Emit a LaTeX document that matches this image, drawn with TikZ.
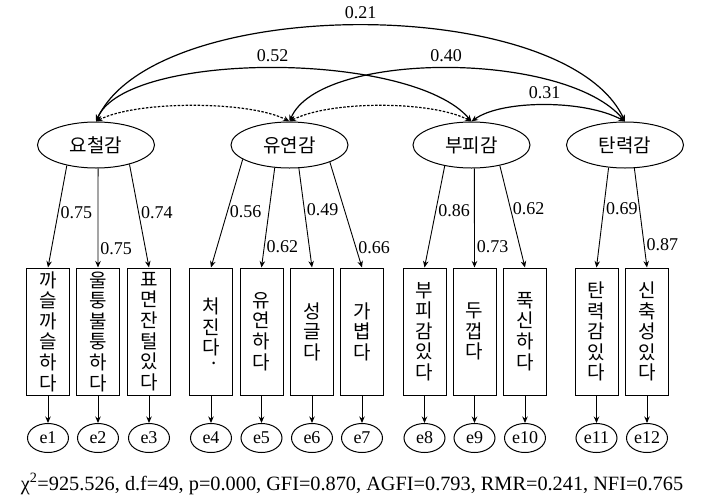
\documentclass[tikz,border=0pt]{standalone}
\usepackage{fontspec}
\setmainfont{Liberation Serif}
\newfontfamily\krfont{Noto Sans CJK KR}
\usetikzlibrary{arrows.meta,shapes.geometric}

\begin{document}
\begin{tikzpicture}[x=1pt,y=-1pt,
    >={Stealth[length=6.5pt,width=5.5pt]},
    latent/.style={draw,ellipse,line width=1pt,minimum width=117pt,minimum height=46pt,inner sep=0pt,font=\krfont\fontsize{19}{22}\selectfont},
    obs/.style={draw,line width=1pt,minimum width=43pt,minimum height=127pt,inner sep=0pt,align=center,font=\krfont\fontsize{19}{20.6}\selectfont},
    resid/.style={draw,ellipse,line width=1pt,minimum width=41pt,minimum height=29pt,inner sep=0pt,font=\fontsize{18}{20}\selectfont},
    corr/.style={<->,line width=1.2pt},
    ld/.style={->,line width=0.9pt},
    num/.style={font=\fontsize{18}{20}\selectfont,inner sep=2pt}
]
\useasboundingbox (0,0) rectangle (705,501);

% latent factors
\node[latent] (yocheol) at (96,145) {요철감};
\node[latent] (yuyeon) at (289.5,145) {유연감};
\node[latent] (bupi) at (471.5,145) {부피감};
\node[latent] (tanryeok) at (625,145) {탄력감};

% observed items
\node[obs] (x1) at (48,331.5) {까\\슬\\까\\슬\\하\\다};
\node[obs] (x2) at (98,331.5) {울\\퉁\\불\\퉁\\하\\다};
\node[obs] (x3) at (149,331.5) {표\\면\\잔\\털\\있\\다};
\node[obs] (x4) at (211,331.5) {처\\진\\다\rlap{\hspace*{-8pt}\raisebox{-10pt}{.}}};
\node[obs] (x5) at (261.5,331.5) {유\\연\\하\\다};
\node[obs] (x6) at (312,331.5) {성\\글\\다};
\node[obs] (x7) at (362,331.5) {가\\볍\\다};
\node[obs] (x8) at (424.5,331.5) {부\\피\\감\\있\\다};
\node[obs] (x9) at (474.5,331.5) {두\\껍\\다};
\node[obs] (x10) at (525,331.5) {푹\\신\\하\\다};
\node[obs] (x11) at (596.5,331.5) {탄\\력\\감\\있\\다};
\node[obs] (x12) at (647,331.5) {신\\축\\성\\있\\다};

% error terms
\node[resid] (e1) at (48,438) {e1};
\node[resid] (e2) at (98,438) {e2};
\node[resid] (e3) at (149,438) {e3};
\node[resid] (e4) at (211,438) {e4};
\node[resid] (e5) at (261.5,438) {e5};
\node[resid] (e6) at (312,438) {e6};
\node[resid] (e7) at (362,438) {e7};
\node[resid] (e8) at (424.5,438) {e8};
\node[resid] (e9) at (474.5,438) {e9};
\node[resid] (e10) at (525,438) {e10};
\node[resid] (e11) at (596.5,438) {e11};
\node[resid] (e12) at (647,438) {e12};

% loadings
\draw[ld] (yocheol.215) -- node[num,pos=.46,anchor=west] {0.75} (x1.north);
\draw[ld] (yocheol.275) -- node[num,pos=.81,anchor=west] {0.75} (x2.north);
\draw[ld] (yocheol.330) -- node[num,pos=.47,anchor=west] {0.74} (x3.north);
\draw[ld] (yuyeon.197) -- node[num,pos=.48,anchor=west] {0.56} (x4.north);
\draw[ld] (yuyeon.237) -- node[num,pos=.79,anchor=west] {0.62} (x5.north);
\draw[ld] (yuyeon.292) -- node[num,pos=.42,anchor=west] {0.49} (x6.north);
\draw[ld] (yuyeon.337) -- node[num,pos=.81,anchor=west] {0.66} (x7.north);
\draw[ld] (bupi.218) -- node[num,pos=.44,anchor=west] {0.86} (x8.north);
\draw[ld] (bupi.277) -- node[num,pos=.79,anchor=west] {0.73} (x9.north);
\draw[ld] (bupi.324) -- node[num,pos=.42,anchor=west] {0.62} (x10.north);
\draw[ld] (tanryeok.234) -- node[num,pos=.41,anchor=west] {0.69} (x11.north);
\draw[ld] (tanryeok.292) -- node[num,pos=.77,anchor=west] {0.87} (x12.north);

% error arrows
\draw[ld] (x1) -- (e1);
\draw[ld] (x2) -- (e2);
\draw[ld] (x3) -- (e3);
\draw[ld] (x4) -- (e4);
\draw[ld] (x5) -- (e5);
\draw[ld] (x6) -- (e6);
\draw[ld] (x7) -- (e7);
\draw[ld] (x8) -- (e8);
\draw[ld] (x9) -- (e9);
\draw[ld] (x10) -- (e10);
\draw[ld] (x11) -- (e11);
\draw[ld] (x12) -- (e12);

% factor correlations
\draw[corr] (yocheol.north) .. controls +(60,-128) and +(-60,-128) .. node[num,midway,above=4pt] {0.21} (tanryeok.north);
\draw[corr] (yocheol.north) .. controls +(30,-71) and +(-60,-71) .. node[num,midway,above=4pt] {0.52} (bupi.north);
\draw[corr] (yuyeon.north) .. controls +(30,-71) and +(-60,-71) .. node[num,midway,above=4pt] {0.40} (tanryeok.north);
\draw[corr] (bupi.north) .. controls +(30,-22) and +(-40,-22) .. node[num,midway,above=4pt] {0.31} (tanryeok.north);
\draw[corr,dash pattern=on 2.5pt off 1.5pt] (yocheol.north) .. controls +(40,-21) and +(-40,-21) .. (yuyeon.north);
\draw[corr,dash pattern=on 2.5pt off 1.5pt] (yuyeon.north) .. controls +(40,-21) and +(-40,-21) .. (bupi.north);

% fit indices
\node[font=\fontsize{20.3}{24}\selectfont,anchor=base] (gof) at (352,490.5) {χ\textsuperscript{2}=925.526, d.f=49, p=0.000, GFI=0.870, AGFI=0.793, RMR=0.241, NFI=0.765};
\end{tikzpicture}
\end{document}
